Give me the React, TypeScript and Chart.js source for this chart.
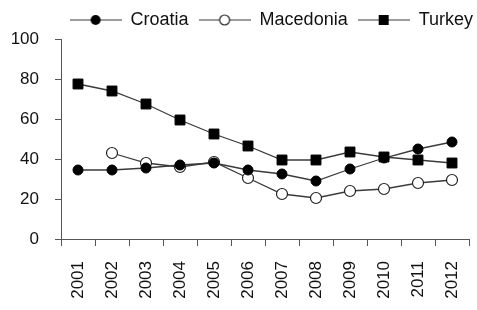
import React, { useEffect, useRef } from "react";
import { Chart, registerables } from "chart.js";

Chart.register(...registerables);

const years = ["2001", "2002", "2003", "2004", "2005", "2006", "2007", "2008", "2009", "2010", "2011", "2012"];
const croatia = [34.5, 34.5, 35.5, 37, 38, 34.5, 32.5, 29, 35, 40.5, 45, 48.5];
const macedonia = [null, 43, 38, 36, 38.5, 30.5, 22.5, 20.5, 24, 25, 28, 29.5];
const turkey = [77.5, 74, 67.5, 59.5, 52.5, 46.5, 39.5, 39.5, 43.5, 41, 39.5, 38];
const yTicks = [0, 20, 40, 60, 80, 100];

const FONT = "'Liberation Sans', Arial, sans-serif";
const LINE = "#3a3a3a";

function legendImage(kind: string): HTMLCanvasElement {
  const c = document.createElement("canvas");
  c.width = 52;
  c.height = 14;
  const ctx = c.getContext("2d")!;
  ctx.strokeStyle = LINE;
  ctx.lineWidth = 1.2;
  ctx.beginPath();
  ctx.moveTo(0, 7);
  ctx.lineTo(52, 7);
  ctx.stroke();
  ctx.fillStyle = "#000";
  if (kind === "circle") {
    ctx.beginPath();
    ctx.arc(26, 7, 5, 0, Math.PI * 2);
    ctx.fill();
  } else if (kind === "open") {
    ctx.beginPath();
    ctx.arc(26, 7, 5, 0, Math.PI * 2);
    ctx.fillStyle = "#fff";
    ctx.fill();
    ctx.strokeStyle = "#222";
    ctx.lineWidth = 1.2;
    ctx.stroke();
  } else {
    ctx.fillRect(21, 2, 10, 10);
  }
  return c;
}

export default function App() {
  const ref = useRef<HTMLCanvasElement>(null);
  useEffect(() => {
    document.body.style.margin = "0";
    const imgs = [legendImage("circle"), legendImage("open"), legendImage("rect")];
    const chart = new Chart(ref.current!, {
      type: "line",
      data: {
        labels: years,
        datasets: [
          {
            label: "Croatia",
            data: croatia,
            borderColor: LINE,
            borderWidth: 1.3,
            pointStyle: "circle",
            pointRadius: 5,
            pointBackgroundColor: "#000",
            pointBorderColor: "#000",
            pointBorderWidth: 1,
          },
          {
            label: "Macedonia",
            data: macedonia,
            borderColor: LINE,
            borderWidth: 1.3,
            pointStyle: "circle",
            pointRadius: 5.5,
            pointBackgroundColor: "#fff",
            pointBorderColor: "#222",
            pointBorderWidth: 1.2,
          },
          {
            label: "Turkey",
            data: turkey,
            borderColor: LINE,
            borderWidth: 1.3,
            pointStyle: "rect",
            pointRadius: 7,
            pointBackgroundColor: "#000",
            pointBorderColor: "#000",
            pointBorderWidth: 1,
          },
        ],
      },
      options: {
        animation: false,
        responsive: false,
        layout: { padding: { top: 1, right: -6, left: 0, bottom: 0 } },
        plugins: {
          tooltip: { enabled: false },
          legend: {
            position: "top",
            align: "end",
            labels: {
              usePointStyle: true,
              pointStyleWidth: 52,
              boxHeight: 14,
              padding: 10,
              color: "#111",
              font: { family: FONT, size: 18 },
              generateLabels: (ch: any) =>
                Chart.defaults.plugins.legend.labels.generateLabels(ch).map((l: any, i: number) => ({
                  ...l,
                  pointStyle: imgs[i],
                })),
            },
          },
        },
        scales: {
          x: {
            type: "category",
            offset: true,
            grid: { offset: true, drawOnChartArea: false, tickLength: 7, color: "#555", lineWidth: 1 },
            border: { color: "#555", width: 1 },
            ticks: {
              minRotation: 90,
              maxRotation: 90,
              padding: 15,
              color: "#111",
              font: { family: FONT, size: 17 },
            },
            afterFit: (s: any) => {
              s.height = 71;
              s.paddingRight = 0;
              s.paddingLeft = 0;
            },
          },
          y: {
            min: 0,
            max: 100,
            afterBuildTicks: (s: any) => {
              s.ticks = yTicks.map((v) => ({ value: v }));
            },
            grid: { drawOnChartArea: false, tickLength: 6, color: "#555" },
            border: { color: "#555", width: 1 },
            ticks: {
              padding: 16,
              color: "#111",
              font: { family: FONT, size: 17 },
            },
            afterFit: (s: any) => {
              s.width = 61;
            },
          },
        },
      },
    });
    return () => chart.destroy();
  }, []);
  return (
    <div style={{ width: 477, height: 310 }}>
      <canvas ref={ref} width={477} height={310} />
    </div>
  );
}
